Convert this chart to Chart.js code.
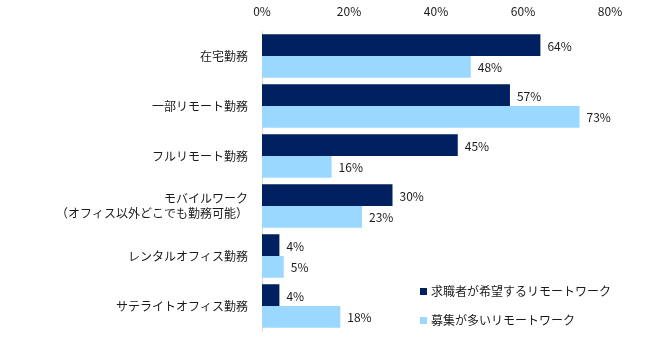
<!DOCTYPE html>
<html>
<head>
<meta charset="utf-8">
<script src="https://cdn.jsdelivr.net/npm/chart.js@4/dist/chart.umd.min.js"></script>
<style>
  html, body { margin: 0; padding: 0; background: #fff; }
</style>
</head>
<body>
<canvas id="c" width="660" height="342"></canvas>
<script>
(function () {
  "use strict";

  const categories = [
    "在宅勤務",
    "一部リモート勤務",
    "フルリモート勤務",
    ["モバイルワーク", "（オフィス以外どこでも勤務可能）"],
    "レンタルオフィス勤務",
    "サテライトオフィス勤務"
  ];
  const seekerLabel = "求職者が希望するリモートワーク";
  const seekerValues = [64, 57, 45, 30, 4, 4];
  const postingLabel = "募集が多いリモートワーク";
  const postingValues = [48, 73, 16, 23, 5, 18];
  const axisMax = 80, axisStep = 20;

  const NAVY = "#002060", SKY = "#9BD8FF", TXT = "#1a1a1a";
  const FONT = "'Noto Sans CJK JP', 'Noto Sans', sans-serif";
  Chart.defaults.font.family = FONT;
  Chart.defaults.font.size = 12;
  Chart.defaults.color = TXT;

  // value labels right of each bar
  const valueLabels = {
    id: "valueLabels",
    afterDatasetsDraw(chart) {
      const ctx = chart.ctx;
      ctx.save();
      ctx.font = "12px " + FONT;
      ctx.fillStyle = TXT;
      ctx.textAlign = "left";
      ctx.textBaseline = "middle";
      chart.data.datasets.forEach((ds, i) => {
        chart.getDatasetMeta(i).data.forEach((bar, j) => {
          ctx.fillText(ds.data[j] + "%", bar.x + 7, bar.y + 1);
        });
      });
      ctx.restore();
    }
  };

  // legend drawn inside the plot, lower right
  const innerLegend = {
    id: "innerLegend",
    afterDraw(chart) {
      const ctx = chart.ctx;
      ctx.save();
      ctx.font = "12px " + FONT;
      ctx.textBaseline = "middle";
      chart.data.datasets.forEach((ds, i) => {
        const y = 291 + i * 29;
        ctx.fillStyle = ds.backgroundColor;
        ctx.fillRect(420, y - 3, 7, 7);
        ctx.fillStyle = TXT;
        ctx.fillText(ds.label, 431, y);
      });
      ctx.restore();
    }
  };

  new Chart(document.getElementById("c"), {
    type: "bar",
    data: {
      labels: categories,
      datasets: [
        { label: seekerLabel, data: seekerValues, backgroundColor: NAVY, categoryPercentage: 0.87, barPercentage: 1 },
        { label: postingLabel, data: postingValues, backgroundColor: SKY, categoryPercentage: 0.87, barPercentage: 1 }
      ]
    },
    options: {
      indexAxis: "y",
      responsive: false, animation: false,
      layout: { padding: { left: 0, right: 50, top: 0, bottom: 11 } },
      plugins: { legend: { display: false }, tooltip: { enabled: false } },
      scales: {
        x: {
          position: "top", min: 0, max: axisMax,
          grid: { display: false, drawTicks: false },
          border: { display: false },
          ticks: { stepSize: axisStep, padding: 12, color: TXT, callback: v => v + "%" },
          afterFit: s => { s.height = 31; }
        },
        y: {
          grid: { display: false, drawOnChartArea: false, drawTicks: true, tickLength: 14, tickColor: "rgba(0,0,0,0)" },
          border: { display: true, color: "#d9d9d9", width: 1 },
          ticks: { padding: 0, color: TXT },
          afterFit: s => { s.width = 262; }
        }
      }
    },
    plugins: [valueLabels, innerLegend]
  });
})();
</script>
</body>
</html>
